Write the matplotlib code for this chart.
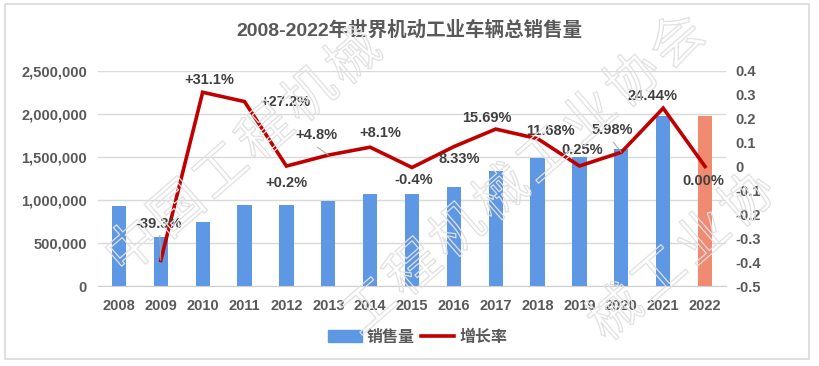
import matplotlib
matplotlib.use("Agg")
import matplotlib.pyplot as plt
import matplotlib.patheffects as pe
from matplotlib.patches import Rectangle
from matplotlib.lines import Line2D

plt.rcParams['font.family'] = ['Liberation Sans', 'Noto Sans CJK SC']
plt.rcParams['font.weight'] = 'bold'

years = ['2008', '2009', '2010', '2011', '2012', '2013', '2014', '2015',
         '2016', '2017', '2018', '2019', '2020', '2021', '2022']
sales = [930000, 570000, 745000, 940000, 940000, 990000, 1070000, 1070000,
         1155000, 1337000, 1488000, 1503000, 1593000, 1977000, 1977000]
growth = [None, -0.393, 0.311, 0.272, 0.002, 0.048, 0.081, -0.004,
          0.0833, 0.1569, 0.1168, 0.0025, 0.0598, 0.2444, 0.0]
growth_labels = ['', '-39.3%', '+31.1%', '+27.2%', '+0.2%', '+4.8%', '+8.1%', '-0.4%',
                 '8.33%', '15.69%', '11.68%', '0.25%', '5.98%', '24.44%', '0.00%']
left_ticks = [0, 500000, 1000000, 1500000, 2000000, 2500000]
right_ticks = [-0.5, -0.4, -0.3, -0.2, -0.1, 0, 0.1, 0.2, 0.3, 0.4]

# label offsets in pixels from each line point
label_off = [None, (-2, 36), (7, 12), (41, 0), (0, -17), (-12, 20), (10, 14), (2, -12),
             (5, -12), (-9, 11), (13, 8), (3, 16), (-9, 22), (-11, 12), (-2, -14)]
leaders = {1: ((-1, 25), (-1, 6)), 5: ((-11, 8), (-1, 1)), 12: ((-8, 10), (-1, 2))}

txt = '#595959'
blue = '#5E97E4'
salmon = '#F08A70'
red = '#C00000'

W, H = 819, 366
fig = plt.figure(figsize=(W/100, H/100), dpi=100)
ax = fig.add_axes([98/W, 1-286/H, 628/W, 215/H])
ax2 = ax.twinx()

x = list(range(len(years)))
colors = [blue]*(len(years)-1) + [salmon]
ax.bar(x, sales, width=0.34, color=colors, zorder=2)
ax.set_ylim(0, 2500000)
ax.set_xlim(-0.5, len(years)-0.5)
ax.set_yticks(left_ticks)
ax.set_yticklabels([f'{v:,}' for v in left_ticks])
ax.set_xticks(x)
ax.set_xticklabels(years)
ax.grid(axis='y', color='#d9d9d9', linewidth=1, zorder=0)
ax.set_axisbelow(True)
for s in ['top', 'left', 'right']:
    ax.spines[s].set_visible(False)
ax.spines['bottom'].set_color('#d0d0d0')
ax.tick_params(axis='both', length=0, labelsize=10.5, colors=txt)
ax.tick_params(axis='y', pad=8)
ax.tick_params(axis='x', pad=9)

gx = x[1:]
gy = growth[1:]
ax2.plot(gx, gy, color=red, linewidth=2.6, zorder=3, solid_joinstyle='miter')
ax2.set_ylim(-0.5, 0.4)
ax2.set_yticks(right_ticks)
ax2.set_yticklabels([f'{v:g}' for v in right_ticks])
ax2.tick_params(axis='y', length=0, labelsize=10.5, colors=txt, pad=7)
for s in ax2.spines.values():
    s.set_visible(False)

for i in gx:
    dx, dy = label_off[i]
    ax2.annotate(growth_labels[i], (i, growth[i]), xytext=(dx, dy),
                 textcoords='offset pixels', ha='center', va='center',
                 fontsize=10.5, fontweight='bold', color='#404040', zorder=5)
for i, (a, b) in leaders.items():
    ax2.annotate('', (i, growth[i]), xytext=a, textcoords='offset pixels',
                 arrowprops=dict(arrowstyle='-', color='#a6a6a6', lw=0.7,
                                 shrinkA=0, shrinkB=0),
                 annotation_clip=False)

fig.text(0.5, 1-30/H, '2008-2022年世界机动工业车辆总销售量', ha='center', va='center',
         fontsize=14, fontweight='bold', color=txt)

handles = [Rectangle((0, 0), 1, 1, color=blue), Line2D([0], [0], color=red, lw=2.6)]
leg = fig.legend(handles, ['销售量', '增长率'], loc='center', bbox_to_anchor=(0.51, 1-337/H),
                 ncol=2, frameon=False, fontsize=11.5, handlelength=2.1, handleheight=0.7,
                 handletextpad=0.3, columnspacing=0.4)
for t in leg.get_texts():
    t.set_color(txt)

# border
fig.patches.append(Rectangle((5/W, 1-359/H), 804/W, 355/H, transform=fig.transFigure,
                             fill=False, edgecolor='#d9d9d9', linewidth=1.2))

# watermark, one character at a time along diagonal lines
wm = '中国工程机械工业协会'
step = (44, -38)
for sx, sy in [(135, 249), (283, 385), (397, 505)]:
    for k, ch in enumerate(wm):
        cx = sx + k*step[0]
        cy = sy + k*step[1]
        if cx < 32 or cx > W-32 or cy < 30 or cy > H-30:
            continue
        fig.text(cx/W, 1-cy/H, ch, ha='center', va='center', rotation=41, fontsize=38,
                 color='none', fontweight='normal', zorder=10,
                 path_effects=[pe.withStroke(linewidth=0.9, foreground='#e0e0e0')])

fig.savefig('out.png', dpi=100)
